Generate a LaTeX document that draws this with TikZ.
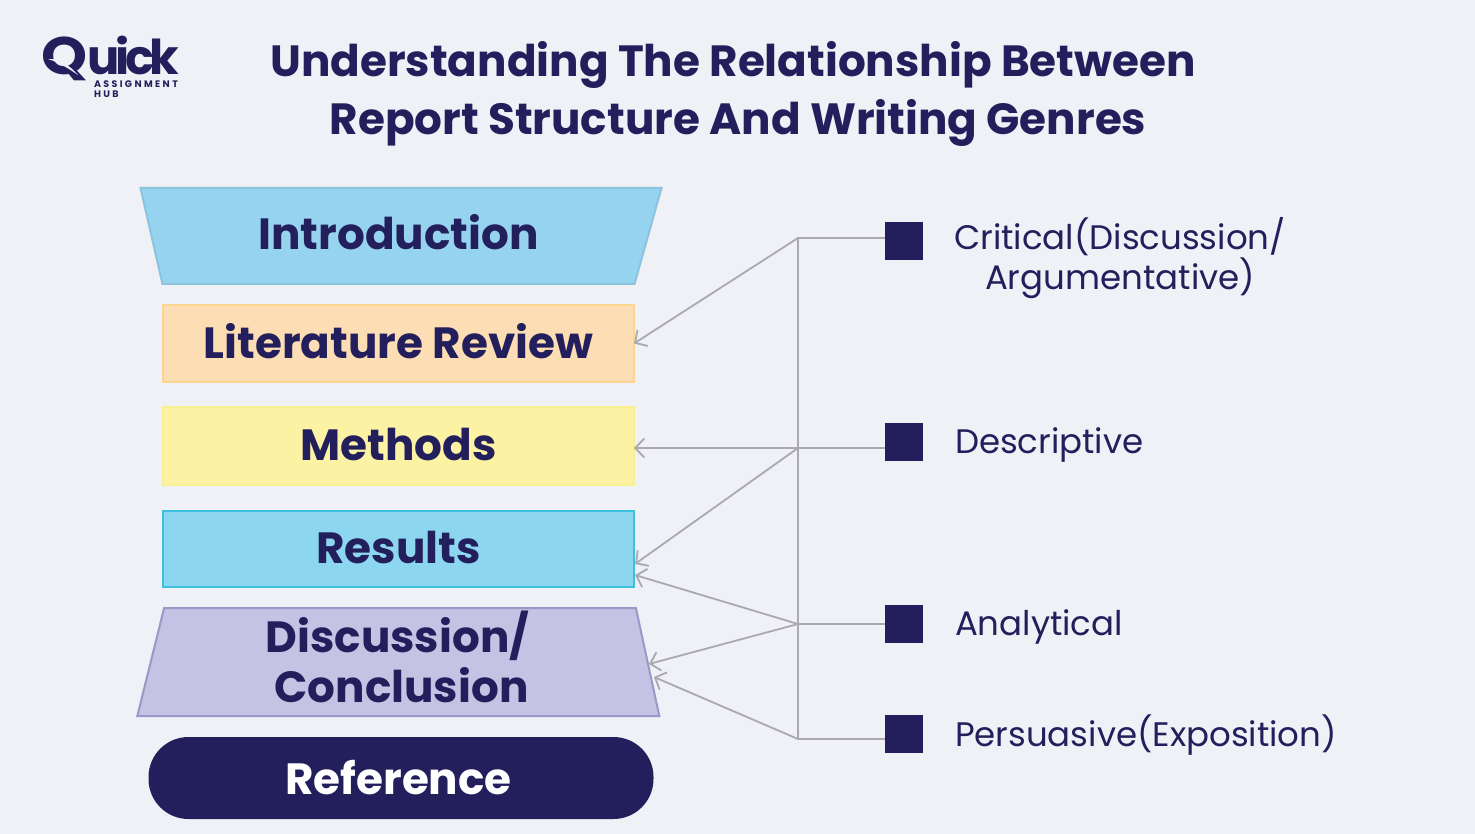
\documentclass[tikz,border=0pt]{standalone}
\usepackage{fontspec}
\usepackage{graphicx}
\setmainfont{Poppins}
\usetikzlibrary{shapes.geometric,arrows.meta}
\definecolor{pagebg}{HTML}{EFF1F6}
\definecolor{navy}{HTML}{231F5C}
\definecolor{linegray}{HTML}{A9A9AE}
\definecolor{introfill}{HTML}{96D3EF}
\definecolor{introline}{HTML}{8CC3DE}
\definecolor{litfill}{HTML}{FDDDB3}
\definecolor{litline}{HTML}{FBD690}
\definecolor{methfill}{HTML}{FBF3A3}
\definecolor{methline}{HTML}{F9F08F}
\definecolor{resfill}{HTML}{8DD6EF}
\definecolor{resline}{HTML}{3CC1E0}
\definecolor{discfill}{HTML}{C5C2E4}
\definecolor{discline}{HTML}{9A97C9}

\begin{document}
\begin{tikzpicture}[x=1pt,y=-1pt,every node/.style={outer sep=0pt,inner sep=0pt,text=navy},
	heading/.style={font=\fontsize{43.7}{58}\selectfont\bfseries,align=center},
	boxtext/.style={font=\fontsize{43.7}{50}\selectfont\bfseries,align=center},
	section/.style={boxtext,draw,line width=2pt,text height=38pt,text depth=9pt,minimum width=471pt,minimum height=76pt},
	funnel/.style={boxtext,draw,line width=2pt,trapezium,trapezium stretches body=true},
	genre/.style={font=\fontsize{34}{40}\selectfont,align=center},
	marker/.style={fill=navy,minimum width=38pt,minimum height=38pt},
	link/.style={draw=linegray,line width=1.8pt},
	linkarrow/.style={link,-{Straight Barb[length=9pt,width=19pt,line width=1.8pt]}}]

	\useasboundingbox[fill=pagebg] (0,0) rectangle (1475,834);

	\node[font=\fontsize{48}{48}\selectfont\bfseries,text depth=0pt,anchor=base west] (logo) at (41,75) {\addfontfeature{LetterSpace=-9}\scalebox{1.22}[1.1]{Q}uick};
	\fill[pagebg] (48,59) .. controls (60,58) and (70,66) .. (78,75) .. controls (68,68) and (58,62) .. (48,59);
	\node[font=\fontsize{9.5}{10}\selectfont\bfseries,anchor=base west] (logosub) at (94,88) {\addfontfeature{LetterSpace=25}ASSIGNMENT};
	\node[font=\fontsize{9.5}{10}\selectfont\bfseries,anchor=base west] (logohub) at (94,98) {\addfontfeature{LetterSpace=25}HUB};

	\node[heading] (title) at (733,94) {Understanding The Relationship Between\\\hspace*{10pt}Report Structure And Writing Genres};

	\node[funnel,fill=introfill,draw=introline,text height=62pt,text depth=34pt,shape border rotate=180,trapezium left angle=74.3,trapezium right angle=77.1,minimum width=521pt] (intro) at (398.5,236) {Introduction};
	\node[section,fill=litfill,draw=litline] (lit) at (398.5,343.5) {Literature Review};
	\node[section,fill=methfill,draw=methline,minimum height=78pt] (meth) at (398.5,446) {Methods};
	\node[section,fill=resfill,draw=resline] (res) at (398.5,549) {Results};
	\node[funnel,fill=discfill,draw=discline,text depth=10pt,trapezium left angle=75.2,trapezium right angle=77,minimum width=522pt,minimum height=108pt] (disc) at (400,662) {Discussion/\hspace*{5pt}\\\hspace*{3pt}Conclusion};
	\node[boxtext,fill=navy,text=white,rounded corners=40pt,minimum width=505pt,minimum height=82pt] (ref) at (401,778) {Reference\hspace{5pt}};

	\node[marker] (crit) at (904,241) {};
	\node[marker] (desc) at (904,442) {};
	\node[marker] (anal) at (904,624) {};
	\node[marker] (pers) at (904,734) {};

	\node[genre] (crittext) at (1120,258) {Critical(Discussion/\\Argumentative)};
	\node[genre,anchor=west] (desctext) at (955,445) {Descriptive};
	\node[genre,anchor=west] (analtext) at (955,627) {Analytical};
	\node[genre,anchor=west] (perstext) at (955,735) {Persuasive(Exposition)};

	\coordinate (hub a) at (798,238);
	\coordinate (hub b) at (798,448);
	\coordinate (hub c) at (798,624);
	\coordinate (hub d) at (798,739);
	\coordinate (res a) at (635,564);
	\coordinate (res b) at (635,575);
	\coordinate (disc a) at (649,664);
	\coordinate (disc b) at (654,677);

	\draw[link] (crit.west |- hub a) -- (hub a) -- (hub d) -- (pers.west |- hub d);
	\draw[link] (desc.west |- hub b) -- (hub b);
	\draw[link] (anal.west |- hub c) -- (hub c);
	\draw[linkarrow] (hub a) -- (lit.east);
	\draw[linkarrow] (hub b) -- (meth.east |- hub b);
	\draw[linkarrow] (hub b) -- (res a);
	\draw[linkarrow] (hub c) -- (res b);
	\draw[linkarrow] (hub c) -- (disc a);
	\draw[linkarrow] (hub d) -- (disc b);

\end{tikzpicture}
\end{document}
